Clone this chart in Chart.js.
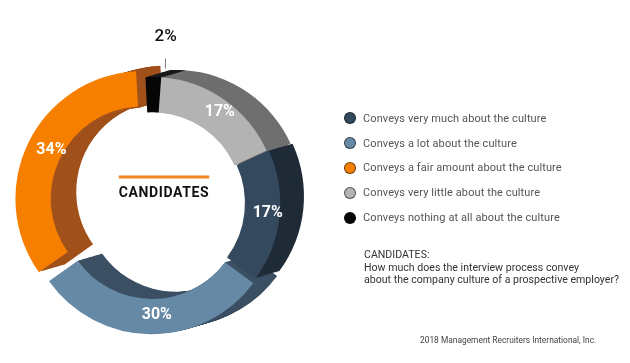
<!DOCTYPE html>
<html>
<head>
<meta charset="utf-8">
<script src="https://cdn.jsdelivr.net/npm/chart.js@4.4.1/dist/chart.umd.min.js"></script>
<style>
  html, body { margin: 0; padding: 0; background: #fff; }
  #wrap { position: relative; width: 630px; height: 363px; overflow: hidden; font-family: Roboto, "Noto Sans", sans-serif; }
  #wrap canvas { position: absolute; left: 0; top: 0; }
  #legend { position: absolute; left: 344px; top: 106px; }
  .row { display: flex; align-items: center; height: 24.8px; }
  .dot { width: 12px; height: 12px; border-radius: 50%; border: 1px solid rgba(0,0,0,0.55); box-sizing: border-box; margin-right: 7px; }
  .lbl { font-size: 11px; color: #555; letter-spacing: 0.1px; }
  #question { position: absolute; left: 364px; top: 249px; font-size: 10.6px; line-height: 12.6px; color: #333; }
  #footer { position: absolute; left: 420px; top: 335px; font-size: 8.4px; color: #444; }
</style>
</head>
<body>
<div id="wrap">
  <canvas id="ring" width="630" height="363"></canvas>
  <div id="legend"></div>
  <div id="question">CANDIDATES:<br>How much does the interview process convey<br>about the company culture of a prospective employer?</div>
  <div id="footer">2018 Management Recruiters International, Inc.</div>
</div>
<script>
// slices in clockwise order, starting at the top
const categories = [
  'Conveys nothing at all about the culture',
  'Conveys very little about the culture',
  'Conveys very much about the culture',
  'Conveys a lot about the culture',
  'Conveys a fair amount about the culture'
];
const shares = [2, 17, 17, 30, 34];
const faceColors = ['#060606', '#b3b3b3', '#34495d', '#6689a6', '#f77f00'];
const sideColors = ['#1a1a1a', '#6f6f6f', '#1f2b37', '#3c5064', '#a1511b'];
const explode = [0, 0, 8, 20, 40];
// order of the legend rows (indexes into categories)
const legendOrder = [2, 3, 4, 1, 0];

const depthX = 24, depthY = -7, depthSteps = 24;

// darker copies of every slice, stacked behind it, for the 3d look
const extrude = {
    id: 'extrude',
    beforeDatasetsDraw(chart) {
        const ctx = chart.ctx;
        const arcs = chart.getDatasetMeta(0).data;
        ctx.save();
        for (let k = depthSteps; k >= 1; k--) {
            arcs.forEach((arc, i) => {
                const p = arc.getProps(['x', 'y', 'startAngle', 'endAngle', 'innerRadius', 'outerRadius']);
                const mid = (p.startAngle + p.endAngle) / 2;
                const off = (arc.options.offset || 0) / 4;
                const cx = p.x + Math.cos(mid) * off + depthX * k / depthSteps;
                const cy = p.y + Math.sin(mid) * off + depthY * k / depthSteps;
                ctx.beginPath();
                ctx.arc(cx, cy, p.outerRadius, p.startAngle, p.endAngle);
                ctx.arc(cx, cy, p.innerRadius, p.endAngle, p.startAngle, true);
                ctx.closePath();
                ctx.fillStyle = sideColors[i];
                ctx.fill();
            });
        }
        ctx.restore();
    }
};

const sliceLabels = {
    id: 'sliceLabels',
    afterDatasetsDraw(chart) {
        const ctx = chart.ctx;
        const arcs = chart.getDatasetMeta(0).data;
        ctx.save();
        ctx.textAlign = 'center';
        ctx.textBaseline = 'middle';
        arcs.forEach((arc, i) => {
            const p = arc.getProps(['x', 'y', 'startAngle', 'endAngle', 'innerRadius', 'outerRadius']);
            const mid = (p.startAngle + p.endAngle) / 2;
            const off = (arc.options.offset || 0) / 4;
            if (shares[i] < 5) {
                // small slice: label outside with a short leader
                const sx = p.x + depthX / 2, sy = p.y + depthY / 2;
                const r0 = p.outerRadius + off;
                ctx.strokeStyle = '#777';
                ctx.lineWidth = 1;
                ctx.beginPath();
                ctx.moveTo(sx + Math.cos(mid) * (r0 + 5), sy + Math.sin(mid) * (r0 + 5));
                ctx.lineTo(sx + Math.cos(mid) * (r0 + 15), sy + Math.sin(mid) * (r0 + 15));
                ctx.stroke();
                ctx.fillStyle = '#111';
                ctx.font = '500 17px Roboto';
                ctx.fillText(shares[i] + '%', sx + Math.cos(mid) * (r0 + 37), sy + Math.sin(mid) * (r0 + 37));
                return;
            }
            const sx = p.x + depthX / 4, sy = p.y + depthY / 4;
            const r = (p.innerRadius + p.outerRadius) / 2 + off;
            ctx.fillStyle = '#fff';
            ctx.font = 'bold 16px Roboto';
            ctx.fillText(shares[i] + '%', sx + Math.cos(mid) * r, sy + Math.sin(mid) * r);
        });

        // title in the hole
        const cx = arcs[0].x + depthX / 2, cy = arcs[0].y + depthY / 2 - 6;
        ctx.font = 'bold 14px Roboto';
        ctx.letterSpacing = '0.6px';
        const w = ctx.measureText('CANDIDATES').width;
        ctx.fillStyle = '#111';
        ctx.fillText('CANDIDATES', cx, cy);
        ctx.fillStyle = '#f08421';
        ctx.fillRect(cx - w / 2, cy - 18, w, 3);
        ctx.restore();
    }
};

new Chart(document.getElementById('ring'), {
    type: 'doughnut',
    data: {
        labels: categories,
        datasets: [{
            data: shares,
            backgroundColor: faceColors,
            borderWidth: 0,
            offset: explode
        }]
    },
    options: {
        responsive: false,
        animation: false,
        rotation: -3,
        cutout: '72%',
        layout: { padding: { left: 6, top: 57, right: 332, bottom: 14 } },
        plugins: {
            legend: { display: false },
            tooltip: { enabled: false }
        }
    },
    plugins: [extrude, sliceLabels]
});

// html legend, like the reference
let legend = [];
for (let i = 0; i < legendOrder.length; i++) {
    const k = legendOrder[i];
    legend.push('<div class="row"><span class="dot" style="background-color:' + faceColors[k] + '"></span>');
    legend.push('<span class="lbl">' + categories[k] + '</span></div>');
}
document.getElementById('legend').innerHTML = legend.join('');
</script>
</body>
</html>
